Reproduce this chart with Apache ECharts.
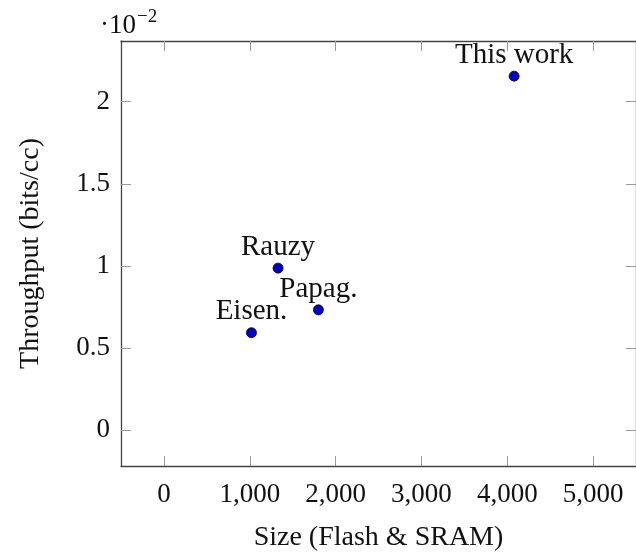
<!DOCTYPE html>
<html>
<head>
<meta charset="utf-8">
<script src="https://cdn.jsdelivr.net/npm/echarts@6/dist/echarts.min.js"></script>
<style>
  html, body { margin: 0; padding: 0; background: #fff; }
  #chart { width: 636px; height: 557px; }
</style>
</head>
<body>
<div id="chart"></div>
<script>
// data (y values in units of 1e-2)
const names = ['This work', 'Rauzy', 'Papag.', 'Eisen.']
const sizes = [4080, 1330, 1800, 1020]
const throughputs = [2.155, 0.987, 0.733, 0.594]
const xTicks = [0, 1000, 2000, 3000, 4000, 5000]
const yTicks = [0, 0.5, 1, 1.5, 2]

const FONT = 'Liberation Serif'
const lineColor = '#444'
const tickColor = '#9a9a9a'

const chart = echarts.init(document.getElementById('chart'))

const points = names.map((n, i) => ({ name: n, value: [sizes[i], throughputs[i]] }))

function xAxisBase (pos) {
  return {
    type: 'value',
    position: pos,
    min: -500,
    max: 5500,
    splitLine: { show: false },
    axisLine: { show: true, onZero: false, lineStyle: { color: lineColor, width: 1.3 } },
    axisTick: { show: true, inside: true, length: 10, customValues: xTicks, lineStyle: { color: tickColor, width: 1 } }
  }
}
function yAxisBase (pos) {
  return {
    type: 'value',
    position: pos,
    min: -0.217,
    max: 2.369,
    splitLine: { show: false },
    axisLine: { show: true, onZero: false, lineStyle: { color: lineColor, width: 1.3 } },
    axisTick: { show: true, inside: true, length: 10, customValues: yTicks, lineStyle: { color: tickColor, width: 1 } }
  }
}

const xBottom = xAxisBase('bottom')
xBottom.name = 'Size (Flash & SRAM)'
xBottom.nameLocation = 'middle'
xBottom.nameGap = 58
xBottom.nameTextStyle = { fontFamily: FONT, fontSize: 28, color: '#111' }
xBottom.axisLabel = {
  show: true,
  customValues: xTicks,
  margin: 15,
  fontFamily: FONT,
  fontSize: 27,
  color: '#111',
  formatter: v => String(v).replace(/\B(?=(\d{3})+(?!\d))/g, ',')
}
const xTop = xAxisBase('top')
xTop.axisLabel = { show: false }

const yLeft = yAxisBase('left')
yLeft.name = 'Throughput (bits/cc)'
yLeft.nameLocation = 'middle'
yLeft.nameGap = 76
yLeft.nameRotate = 90
yLeft.nameTextStyle = { fontFamily: FONT, fontSize: 28, color: '#111' }
yLeft.axisLabel = {
  show: true,
  customValues: yTicks,
  margin: 11,
  fontFamily: FONT,
  fontSize: 27,
  color: '#111'
}
const yRight = yAxisBase('right')
yRight.axisLabel = { show: false }

const option = {
  animation: false,
  backgroundColor: '#fff',
  grid: { left: 121, top: 41, right: -2, bottom: 86 },
  xAxis: [xBottom, xTop],
  yAxis: [yLeft, yRight],
  graphic: [{
    type: 'text',
    left: 100,
    top: 8,
    style: {
      text: '{a|·10}{b|−2}',
      rich: {
        a: { fontFamily: FONT, fontSize: 27, fill: '#111', verticalAlign: 'bottom' },
        b: { fontFamily: FONT, fontSize: 19, fill: '#111', verticalAlign: 'top', padding: [0, 0, 12, 1] }
      }
    }
  }],
  series: [{
    type: 'scatter',
    xAxisIndex: 0,
    yAxisIndex: 0,
    data: points,
    symbol: 'circle',
    symbolSize: 10,
    itemStyle: { color: '#0000cc', borderColor: '#000', borderWidth: 0.8, opacity: 1 },
    label: {
      show: true,
      position: 'top',
      distance: 1,
      formatter: p => p.name,
      fontFamily: FONT,
      fontSize: 29,
      color: '#111'
    }
  }]
}

chart.setOption(option)
</script>
</body>
</html>
